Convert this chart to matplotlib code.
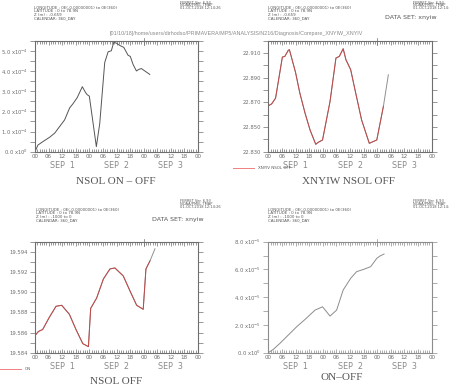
import numpy as np
import matplotlib
matplotlib.use("Agg")
import matplotlib.pyplot as plt
from matplotlib.ticker import MultipleLocator, FixedLocator, FuncFormatter
import matplotlib.transforms as mtransforms

# ==== Daten ====
# Stunden ab SEP 1 00:00
h_on_off = [0, 0.2, 1.3, 3.5, 6.5, 8.7, 10.9, 13.1, 15.3, 16.8, 18.6, 20.9, 22.4, 23.0, 24.0,
            27.1, 28.6, 30.8, 32.3, 33.7, 34.8, 35.9, 37.7, 39.2, 41.1, 42.1, 43.3, 44.8,
            45.9, 47.0, 48.5, 50.7]
nsol_on_off = [0.0, 0.05, 0.33, 0.5, 0.72, 0.92, 1.25, 1.58, 2.17, 2.38, 2.67, 3.22, 2.92, 2.83,
               2.75, 0.25, 1.4, 4.42, 4.95, 5.0, 5.42, 5.38, 5.25, 5.17, 4.78, 4.72, 4.33, 4.0,
               4.08, 4.12, 4.0, 3.83]  # x1e-4

h_xnyiw = [0, 1.5, 3.2, 6.2, 7.3, 8.8, 9.3, 12.0, 13.9, 16.2, 18.4, 20.9, 22.0, 23.9, 27.2,
           29.8, 31.3, 33.0, 34.2, 36.3, 38.2, 41.1, 44.5, 47.8, 50.7, 52.9]
xnyiw_nsol_off = [22.8672, 22.8688, 22.8734, 22.9067, 22.9073, 22.9122, 22.9127, 22.8943,
                  22.8775, 22.8612, 22.8476, 22.8360, 22.8376, 22.8395, 22.8707, 22.9059,
                  22.9073, 22.9135, 22.9046, 22.8965, 22.8802, 22.8558, 22.8368, 22.8395,
                  22.8666, 22.8924]
n_red_xnyiw = 25  # rote Ueberlagerung bis Index

h_off = [0, 1.5, 3.4, 6.3, 9.3, 11.8, 15.2, 18.1, 21.1, 23.6, 24.6, 27.2, 30.2, 33.1, 35.3,
         39.0, 42.0, 44.9, 47.8, 49.0, 50.8, 53.0]
nsol_off = [19.5857, 19.5861, 19.5863, 19.5875, 19.5886, 19.5887, 19.5878, 19.5863, 19.5849,
            19.5846, 19.5884, 19.5894, 19.5913, 19.5923, 19.5924, 19.5916, 19.5901, 19.5887,
            19.5883, 19.5923, 19.5931, 19.5943]
n_red_off = 21

h_diff = [0, 2.2, 5.1, 8.8, 12.5, 16.2, 20.6, 23.9, 27.2, 30.1, 33.0, 36.3, 38.9, 41.9, 45.1,
          47.8, 49.2, 51.0]
on_minus_off = [0, 0.24, 0.67, 1.27, 1.87, 2.4, 3.07, 3.31, 2.64, 3.07, 4.52, 5.36, 5.84, 6.0,
                6.2, 6.8, 6.97, 7.11]  # x1e-5

hour_labels = ["00", "06", "12", "18"] * 3 + ["00"]
day_labels = ["SEP  1", "SEP  2", "SEP  3"]

GRAY = "#6e6e6e"
RED = "#c04848"

fig = plt.figure(figsize=(4.49, 3.87), dpi=100)
W, H = 449.0, 387.0


def ax_at(x0, y0, x1, y1):
    return fig.add_axes([x0 / W, 1 - y1 / H, (x1 - x0) / W, (y1 - y0) / H])


def style(ax, ymin, ymax, ymaj, ymin_step, fmt, fc=GRAY):
    ax.set_xlim(0, 72)
    ax.set_ylim(ymin, ymax)
    for s in ax.spines.values():
        s.set_color(fc)
        s.set_linewidth(0.8)
    ax.xaxis.set_minor_locator(MultipleLocator(1))
    ax.set_xticks(np.arange(0, 73, 6))
    ax.set_xticklabels(hour_labels)
    ax.tick_params(axis="x", which="both", direction="in", top=True, bottom=True,
                   colors=fc, labelcolor=GRAY, labelsize=4.1, pad=2)
    ax.tick_params(axis="x", which="major", length=3, width=0.5)
    ax.tick_params(axis="x", which="minor", length=2, width=0.5)
    ax.yaxis.set_major_locator(FixedLocator(np.arange(ymin, ymax + 1e-12, ymaj)))
    ax.yaxis.set_minor_locator(MultipleLocator(ymin_step))
    ax.yaxis.set_major_formatter(FuncFormatter(fmt))
    ax.tick_params(axis="y", which="both", direction="out", left=True, right=True,
                   colors=fc, labelcolor=GRAY, labelsize=3.8, pad=1.5)
    ax.tick_params(axis="y", which="major", length=3.5, width=0.5)
    ax.tick_params(axis="y", which="minor", length=3.5, width=0.5)
    trans = mtransforms.blended_transform_factory(ax.transData, ax.transAxes)
    for i, d in enumerate(day_labels):
        ax.text(12 + 24 * i, -0.125, d, transform=trans, ha="center", va="center",
                fontsize=5.8, color="#8a8a8a")
    # langer Strich oben bei SEP 3 00
    ax.plot([48, 48], [1.0, 0.96], transform=trans, color=fc, lw=0.5, clip_on=False)
    ax.plot([48, 48], [1.0, 1.025], transform=trans, color=fc, lw=0.5, clip_on=False)


def sci(e):
    def f(v, pos):
        m = v / 10.0 ** e
        if abs(m) < 1e-9:
            return r"0.0 x10$^{0}$"
        return r"%.1f x10$^{%d}$" % (m, e)
    return f


def header(x, y, lines, size=2.9, step=3.4):
    for i, t in enumerate(lines):
        fig.text(x / W, 1 - (y + i * step) / H, t, fontsize=size, color="#555555",
                 va="center", ha="left")


ferret = ["FERRET Ver. 6.93", "NOAA/PMEL TMAP", "01-OCT-2018 12:14:26"]

# ==== Panel 1: NSOL ON - OFF ====
ax1 = ax_at(35, 40.7, 198, 151.7)
ax1.plot(h_on_off, np.array(nsol_on_off) * 1e-4, color="#555555", lw=0.7)
style(ax1, 0, 5.5e-4, 1e-4, 0.5e-4, sci(-4))
header(34, 8, ["LONGITUDE : 0E(-0.00000001) to 0E(360)", "LATITUDE : 0 to 78.9N",
               "Z (m) : -0.659", "CALENDAR: 360_DAY"])
header(180, 2.5, ferret, size=2.6, step=2.8)
fig.text(116 / W, 1 - 182 / H, "NSOL ON \u2013 OFF", family="Liberation Serif",
         fontsize=8, color="#555555", ha="center", va="center")

# ==== Panel 2: XNYIW NSOL OFF ====
ax2 = ax_at(268.3, 40.7, 431.7, 151.7)
ax2.plot(h_xnyiw, xnyiw_nsol_off, color="#909090", lw=0.7)
ax2.plot(h_xnyiw[:n_red_xnyiw], xnyiw_nsol_off[:n_red_xnyiw], color=RED, lw=0.7)
style(ax2, 22.830, 22.920, 0.02, 0.01, lambda v, p: "%.3f" % v)
header(268, 8, ["LONGITUDE : 0E(-0.00000001) to 0E(360)", "LATITUDE : 0 to 78.9N",
                "Z (m) : -0.659", "CALENDAR: 360_DAY"])
header(413, 2.5, ferret, size=2.6, step=2.8)
fig.text(385 / W, 1 - 18 / H, "DATA SET: xnyiw", fontsize=4.5, color="#555555",
         va="center")
fig.text(349 / W, 1 - 181 / H, "XNYIW NSOL OFF", family="Liberation Serif",
         fontsize=8, color="#555555", ha="center", va="center")
fig.add_artist(plt.Line2D([233 / W, 254 / W], [1 - 168 / H] * 2, color="#f08080", lw=0.7))
fig.text(258 / W, 1 - 168 / H, "XNYIV NSOL OFF", fontsize=2.9, color="#555555", va="center")

# Pfad oben
fig.text(110 / W, 1 - 34 / H,
         "[01/10/18]/home/users/dirhodso/PRIMAVERA/MP5/ANALYSIS/N216/Diagnosis/Compare_XNYIW_XNYIV",
         family="Liberation Sans", fontsize=3.85, color="#8a8a8a", va="center")

# ==== Panel 3: NSOL OFF ====
ax3 = ax_at(35, 241.7, 198, 352.7)
ax3.plot(h_off, nsol_off, color="#909090", lw=0.7)
ax3.plot(h_off[:n_red_off], nsol_off[:n_red_off], color=RED, lw=0.7)
style(ax3, 19.584, 19.595, 0.002, 0.001, lambda v, p: "%.3f" % v)
header(36, 210, ["LONGITUDE : 0E(-0.00000001) to 0E(360)", "LATITUDE : 0 to 78.9N",
                 "Z (m) : -1000 to 0", "CALENDAR: 360_DAY"])
header(180, 201.5, ferret, size=2.6, step=2.8)
fig.text(152 / W, 1 - 220 / H, "DATA SET: xnyiw", fontsize=4.5, color="#555555",
         va="center")
fig.text(116 / W, 1 - 382 / H, "NSOL OFF", family="Liberation Serif",
         fontsize=8, color="#555555", ha="center", va="center")
fig.add_artist(plt.Line2D([0, 21 / W], [1 - 369 / H] * 2, color="#f08080", lw=0.7))
fig.text(25 / W, 1 - 369 / H, "ON", fontsize=2.9, color="#555555", va="center")

# ==== Panel 4: ON-OFF ====
ax4 = ax_at(268.3, 241.7, 431.7, 352.7)
ax4.plot(h_diff, np.array(on_minus_off) * 1e-5, color="#8c8c8c", lw=0.7)
style(ax4, 0, 8e-5, 2e-5, 1e-5, sci(-5), fc="#8c8c8c")
header(268, 210, ["LONGITUDE : 0E(-0.00000001) to 0E(360)", "LATITUDE : 0 to 78.9N",
                  "Z (m) : -1000 to 0", "CALENDAR: 360_DAY"])
header(413, 201.5, ferret, size=2.6, step=2.8)
fig.text(342 / W, 1 - 377 / H, "ON\u2013OFF", family="Liberation Serif",
         fontsize=8, color="#555555", ha="center", va="center")

fig.savefig("out.png", dpi=100)
